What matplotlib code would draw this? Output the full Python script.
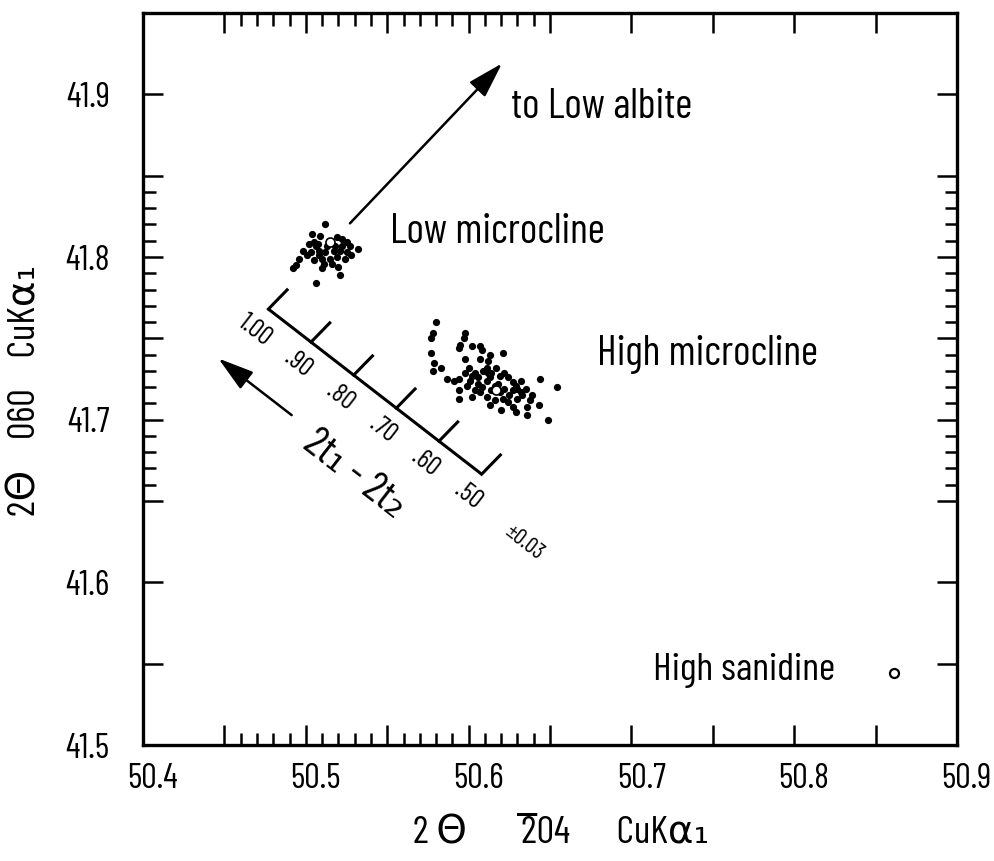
import matplotlib
matplotlib.use('Agg')
import matplotlib.pyplot as plt
from matplotlib.ticker import FixedLocator, FuncFormatter
from matplotlib.transforms import ScaledTranslation
import numpy as np

plt.rcParams['font.family'] = ['Barlow Condensed', 'DejaVu Sans']

# Low microcline samples
low_mic_x = [50.512, 50.504, 50.509, 50.505, 50.502, 50.519, 50.522, 50.525, 50.527, 50.532,
             50.498, 50.503, 50.508, 50.512, 50.517, 50.521, 50.525, 50.510, 50.515, 50.519,
             50.501, 50.494, 50.492, 50.520, 50.521, 50.506, 50.506, 50.513, 50.522, 50.508,
             50.505, 50.516, 50.511, 50.5075, 50.518, 50.524, 50.496, 50.510, 50.528]
low_mic_y = [41.820, 41.814, 41.813, 41.809, 41.808, 41.812, 41.811, 41.809, 41.807, 41.805,
             41.804, 41.803, 41.804, 41.803, 41.804, 41.804, 41.803, 41.799, 41.799, 41.800,
             41.801, 41.795, 41.793, 41.794, 41.789, 41.784, 41.807, 41.807, 41.807, 41.801,
             41.798, 41.796, 41.796, 41.808, 41.807, 41.799, 41.799, 41.793, 41.801]

# High microcline samples
high_mic_x = [50.580, 50.578, 50.577, 50.598, 50.597, 50.595, 50.594, 50.602, 50.607, 50.608,
              50.577, 50.621, 50.613, 50.612, 50.611, 50.607, 50.598, 50.579, 50.583, 50.578,
              50.587, 50.591, 50.594, 50.644, 50.654, 50.635, 50.639, 50.594, 50.594, 50.602,
              50.613, 50.620, 50.627, 50.629, 50.636, 50.636, 50.643, 50.649,
              50.600, 50.604, 50.609, 50.614, 50.619, 50.624, 50.627, 50.630, 50.601, 50.606,
              50.611, 50.622, 50.625, 50.607, 50.611, 50.616, 50.621, 50.630, 50.598, 50.618,
              50.604, 50.624, 50.632,
              50.602, 50.613, 50.617, 50.622, 50.629, 50.608, 50.614, 50.619, 50.627, 50.633,
              50.612, 50.606, 50.599, 50.632, 50.638, 50.616]
high_mic_y = [41.760, 41.753, 41.750, 41.753, 41.750, 41.746, 41.744, 41.745, 41.745, 41.743,
              41.741, 41.741, 41.740, 41.736, 41.732, 41.737, 41.737, 41.735, 41.732, 41.730,
              41.725, 41.724, 41.725, 41.725, 41.720, 41.719, 41.715, 41.718, 41.713, 41.714,
              41.709, 41.706, 41.708, 41.705, 41.708, 41.703, 41.709, 41.700,
              41.732, 41.729, 41.730, 41.729, 41.727, 41.726, 41.723, 41.719, 41.724, 41.722,
              41.724, 41.719, 41.715, 41.717, 41.714, 41.712, 41.713, 41.713, 41.729, 41.722,
              41.718, 41.711, 41.717,
              41.727, 41.726, 41.732, 41.729, 41.721, 41.720, 41.718, 41.717, 41.718, 41.715,
              41.729, 41.726, 41.721, 41.724, 41.712, 41.721]

# mean positions (open circles)
mean_x = [50.515, 50.617]
mean_y = [41.809, 41.718]
sanidine_x = [50.861]
sanidine_y = [41.544]

# 2t1 - 2t2 scale
scale_values = [1.00, 0.90, 0.80, 0.70, 0.60, 0.50]
scale_labels = ['1.00', '.90', '.80', '.70', '.60', '.50']
scale_start = (50.477, 41.768)
scale_end = (50.608, 41.6665)

fig = plt.figure(figsize=(9.94, 8.61), dpi=100)
ax = fig.add_axes([0.1439, 0.1347, 0.8189, 0.8502])
ax.set_xlim(50.4, 50.9)
ax.set_ylim(41.5, 41.95)

for s in ax.spines.values():
    s.set_linewidth(2.4)

xmaj = np.round(np.arange(50.40, 50.901, 0.05), 2)
ymaj = np.round(np.arange(41.50, 41.951, 0.05), 2)
xmin = [v for v in np.round(np.arange(50.45, 50.651, 0.01), 2) if v not in xmaj]
ymin = [v for v in np.round(np.arange(41.65, 41.851, 0.01), 2) if v not in ymaj]
ax.xaxis.set_major_locator(FixedLocator(xmaj))
ax.yaxis.set_major_locator(FixedLocator(ymaj))
ax.xaxis.set_minor_locator(FixedLocator(xmin))
ax.yaxis.set_minor_locator(FixedLocator(ymin))
fmt = FuncFormatter(lambda v, p: f'{v:.1f}' if abs(v * 10 - round(v * 10)) < 1e-6 else '')
ax.xaxis.set_major_formatter(fmt)
ax.yaxis.set_major_formatter(fmt)
ax.tick_params(which='both', direction='in', top=True, right=True, width=1.8)
ax.tick_params(which='major', length=14.5, labelsize=25)
ax.tick_params(which='minor', length=9)
ax.tick_params(axis='x', which='major', pad=13)
ax.tick_params(axis='y', which='major', pad=24)

# x tick labels sit a little right of their ticks in the original
shift = ScaledTranslation(7 / 72, 0, fig.dpi_scale_trans)
for lab in ax.get_xticklabels():
    lab.set_transform(lab.get_transform() + shift)

ax.plot(low_mic_x, low_mic_y, 'o', color='black', ms=5.2, mew=0)
ax.plot(high_mic_x, high_mic_y, 'o', color='black', ms=5.2, mew=0)
ax.plot(mean_x, mean_y, 'o', mfc='white', mec='black', ms=6.5, mew=1.2, zorder=5)
ax.plot(sanidine_x, sanidine_y, 'o', mfc='white', mec='black', ms=6.5, mew=1.6)

# arrow to low albite
ax.annotate('', xy=(50.6205, 41.919), xytext=(50.5271, 41.8207),
            arrowprops=dict(arrowstyle='-|>,head_length=1.0,head_width=0.3', mutation_scale=22,
                            lw=1.8, color='black', shrinkA=0, shrinkB=0))

# composition scale
sx0, sy0 = scale_start
sx1, sy1 = scale_end
ax.plot([sx0, sx1], [sy0, sy1], color='black', lw=2.2, solid_capstyle='butt')
rot = -37.7
for v, lab in zip(scale_values, scale_labels):
    t = (1.0 - v) / 0.5
    bx = sx0 + t * (sx1 - sx0)
    by = sy0 + t * (sy1 - sy0)
    ax.plot([bx, bx + 0.0115], [by, by + 0.0118], color='black', lw=2.2)
    ax.text(bx - 0.0082, by - 0.0132, lab, rotation=rot, ha='center', va='center',
            fontsize=19, rotation_mode='anchor')
ax.text(50.6337, 41.6241, '\u00b10.03', rotation=rot, ha='center', va='center',
        fontsize=16, rotation_mode='anchor')
ax.text(50.530, 41.666, '2t\u2081 - 2t\u2082', rotation=rot, ha='center', va='center',
        fontsize=30, rotation_mode='anchor')
ax.annotate('', xy=(50.4463, 41.7376), xytext=(50.4913, 41.7028),
            arrowprops=dict(arrowstyle='-|>,head_length=1.0,head_width=0.3', mutation_scale=22,
                            lw=1.8, color='black', shrinkA=0, shrinkB=0))

ax.text(50.626, 41.892, 'to Low albite', fontsize=30, va='center')
ax.text(50.552, 41.815, 'Low microcline', fontsize=30, va='center')
ax.text(50.679, 41.740, 'High microcline', fontsize=30, va='center')
ax.text(50.713, 41.546, 'High sanidine', fontsize=28.5, va='center')

ax.set_xlabel('2 \u0398       2\u030504      CuK\u03b1\u2081', fontsize=28)
ax.set_ylabel('2\u0398    060    CuK\u03b1\u2081', fontsize=28)
ax.xaxis.set_label_coords(0.513, -0.098)
ax.yaxis.set_label_coords(-0.122, 0.485)

fig.savefig('out.png', dpi=100)
